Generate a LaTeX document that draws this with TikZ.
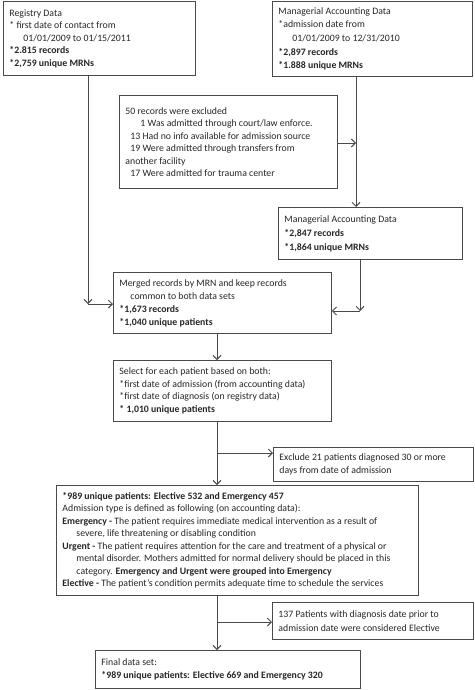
\documentclass[tikz,border=0pt]{standalone}
\usepackage{fontspec}
\setmainfont{Carlito}
\usetikzlibrary{arrows.meta}
\definecolor{ln}{HTML}{4A4A4A}
\definecolor{tx}{HTML}{262626}
\begin{document}
\begin{tikzpicture}[x=1pt,y=1pt,
  box/.style={draw=ln, line width=0.9pt, anchor=north west, inner xsep=6pt, inner ysep=3pt,
    align=flush left, text=tx, font=\fontsize{9.8}{12.5}\selectfont},
  arr/.style={draw=ln, line width=0.9pt, -{Straight Barb[length=4pt,width=8pt]}}]
\useasboundingbox (0,0) rectangle (474,-690);
\node[box, minimum width=192pt, minimum height=74pt, text width=180pt] (reg) at (3,-1)
 {Registry Data\\
  {*} first date of contact from\\
  \hspace*{14pt}01/01/2009 to 01/15/2011\\
  \textbf{*2.815 records}\\
  \textbf{*2,759 unique MRNs}};
\node[box, minimum width=200pt, minimum height=75pt, text width=188pt,
  font=\fontsize{9.8}{13.7}\selectfont] (mgr) at (272,-1)
 {Managerial Accounting Data\\
  {*}admission date from\\
  \hspace*{14pt}01/01/2009 to 12/31/2010\\
  \textbf{*2,897 records}\\
  \textbf{*1.888 unique MRNs}};
\node[box, minimum width=218pt, minimum height=93pt, text width=206pt] (excl) at (119,-95)
 {50 records were excluded\\
  \hspace*{15pt}1 Was admitted through court/law enforce.\\
  \hspace*{5pt}13 Had no info available for admission source\\
  \hspace*{5pt}19 Were admitted through transfers from\\
  another facility\\
  \hspace*{5pt}17 Were admitted for trauma center\\[6pt]};
\node[box, minimum width=184pt, minimum height=52pt, text width=172pt,
  font=\fontsize{9.8}{14}\selectfont] (mgr2) at (278,-207)
 {Managerial Accounting Data\\
  \textbf{*2,847 records}\\
  \textbf{*1,864 unique MRNs}};
\node[box, minimum width=218pt, minimum height=61pt, text width=206pt,
  font=\fontsize{9.8}{13}\selectfont] (merged) at (113,-272)
 {Merged records by MRN and keep records\\
  \hspace*{11pt}common to both data sets\\
  \textbf{*1,673 records}\\
  \textbf{*1,040 unique patients}};
\node[box, minimum width=218pt, minimum height=61pt, text width=206pt] (select) at (113,-360)
 {Select for each patient based on both:\\
  {*}first date of admission (from accounting data)\\
  {*}first date of diagnosis (on registry data)\\
  \textbf{* 1,010 unique patients}};
\node[box, minimum width=200pt, minimum height=34pt, text width=188pt,
  font=\fontsize{9.8}{13.5}\selectfont] (excl21) at (273,-447)
 {Exclude 21 patients diagnosed 30 or more\\
  days from date of admission};
\node[box, minimum width=362pt, minimum height=110pt, text width=350pt] (big) at (56,-485)
 {\textbf{*989 unique patients: Elective 532 and Emergency 457}\\
  Admission type is defined as following (on accounting data):\\
  \textbf{Emergency -} The patient requires immediate medical intervention as a result of\\
  \hspace*{14pt}severe, life threatening or disabling condition\\
  \textbf{Urgent -} The patient requires attention for the care and treatment of a physical or\\
  \hspace*{14pt}mental disorder. Mothers admitted for normal delivery should be placed in this\\
  \hspace*{14pt}category. \textbf{Emergency and Urgent were grouped into Emergency}\\
  \textbf{Elective -} The patient's condition permits adequate time to schedule the services};
\node[box, minimum width=201pt, minimum height=37pt, text width=189pt,
  font=\fontsize{9.8}{14.5}\selectfont] (p137) at (272,-602)
 {137 Patients with diagnosis date prior to\\
  admission date were considered Elective};
\node[box, minimum width=265pt, minimum height=38pt, text width=253pt,
  font=\fontsize{9.8}{13.5}\selectfont] (final) at (95,-650)
 {Final data set:\\
  \textbf{*989 unique patients: Elective 669 and Emergency 320}};
% connectors
\coordinate (c1) at (88,-304);
\draw[arr] (reg.south -| c1) -- (c1);
\draw[arr] (c1) -- (merged.west |- c1);
\coordinate (m1) at (356,-143);
\draw[arr] (mgr.south -| m1) -- (mgr2.north -| m1);
\draw[arr] (excl.east |- m1) -- (m1);
\coordinate (c2) at (360,-311);
\draw[arr] (mgr2.south -| c2) -- (c2);
\draw[arr] (c2) -- (merged.east |- c2);
\coordinate (sp) at (217,0);
\draw[arr] (merged.south -| sp) -- (select.north -| sp);
\draw[arr] (select.south -| sp) -- (big.north -| sp);
\coordinate (b1) at (217,-453);
\draw[arr] (b1) -- (excl21.west |- b1);
\draw[arr] (big.south -| sp) -- (final.north -| sp);
\coordinate (b2) at (217,-622);
\draw[arr] (b2) -- (p137.west |- b2);
\end{tikzpicture}
\end{document}
